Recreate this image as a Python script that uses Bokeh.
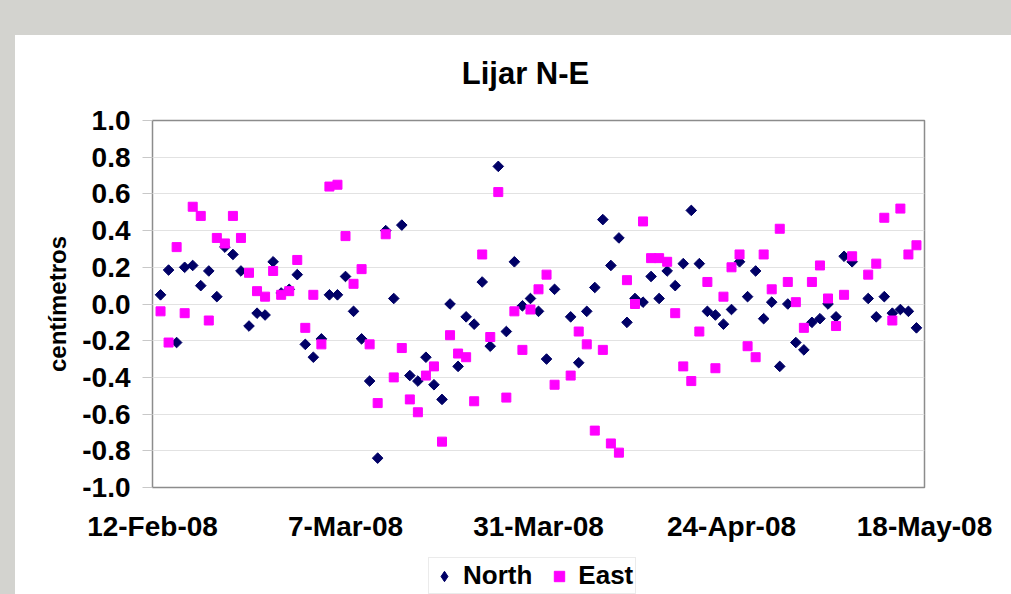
import datetime as dt
from bokeh.plotting import figure
from bokeh.models import (ColumnDataSource, FixedTicker, Legend, LegendItem,
                          Range1d, NumeralTickFormatter, Div, Label)
from bokeh.layouts import column, row
from bokeh.embed import file_html
from bokeh.resources import INLINE

# ---------------- data ----------------
title_text = "Lijar N-E"
start_date = "2008-02-12"
end_date = "2008-05-18"

north_day = [1, 2, 3, 4, 5, 6, 7, 8, 9, 10, 11, 12, 13, 14, 15, 16, 17, 18, 19, 20,
             21, 22, 23, 24, 25, 26, 27, 28, 29, 30, 31, 32, 33, 34, 35, 36, 37, 38, 39, 40,
             41, 42, 43, 44, 45, 46, 47, 48, 49, 50, 52, 53, 54, 55, 56, 57, 58, 59, 60, 61,
             62, 63, 64, 65, 66, 67, 68, 69, 70, 71, 72, 73, 74, 75, 76, 77, 78, 79, 80, 81,
             82, 83, 84, 85, 86, 87, 89, 90, 91, 92, 93, 94, 95]
north_val = [0.05, 0.185, -0.21, 0.20, 0.21, 0.10, 0.18, 0.04, 0.31, 0.27, 0.18, -0.12, -0.05, -0.06, 0.23, 0.06, 0.08, 0.16, -0.22, -0.29,
             -0.19, 0.05, 0.05, 0.15, -0.04, -0.19, -0.42, -0.84, 0.40, 0.03, 0.43, -0.39, -0.42, -0.29, -0.44, -0.52, 0.00, -0.34, -0.07, -0.11,
             0.12, -0.23, 0.75, -0.15, 0.23, -0.01, 0.03, -0.04, -0.30, 0.08, -0.07, -0.32, -0.04, 0.09, 0.46, 0.21, 0.36, -0.10, 0.03, 0.01,
             0.15, 0.03, 0.18, 0.10, 0.22, 0.51, 0.22, -0.04, -0.06, -0.11, -0.03, 0.23, 0.04, 0.18, -0.08, 0.01, -0.34, 0.00, -0.21, -0.25,
             -0.10, -0.08, 0.00, -0.07, 0.26, 0.23, 0.03, -0.07, 0.04, -0.05, -0.03, -0.04, -0.13]

east_day = north_day
east_val = [-0.04, -0.21, 0.31, -0.05, 0.53, 0.48, -0.09, 0.36, 0.33, 0.48, 0.36, 0.17, 0.07, 0.04, 0.18, 0.05, 0.07, 0.24, -0.13, 0.05,
            -0.22, 0.64, 0.65, 0.37, 0.11, 0.19, -0.22, -0.54, 0.38, -0.40, -0.24, -0.52, -0.59, -0.39, -0.34, -0.75, -0.17, -0.27, -0.29, -0.53,
            0.27, -0.18, 0.61, -0.51, -0.04, -0.25, -0.03, 0.08, 0.16, -0.44, -0.39, -0.15, -0.22, -0.69, -0.25, -0.76, -0.81, 0.13, 0.00, 0.45,
            0.25, 0.25, 0.23, -0.05, -0.34, -0.42, -0.15, 0.12, -0.35, 0.04, 0.20, 0.27, -0.23, -0.29, 0.27, 0.08, 0.41, 0.12, 0.01, -0.13,
            0.12, 0.21, 0.03, -0.12, 0.05, 0.26, 0.16, 0.22, 0.47, -0.09, 0.52, 0.27, 0.32]

x_tick_labels = ["12-Feb-08", "7-Mar-08", "31-Mar-08", "24-Apr-08", "18-May-08"]
x_tick_days = [0, 24, 48, 72, 96]
y_ticks = [-1.0, -0.8, -0.6, -0.4, -0.2, 0.0, 0.2, 0.4, 0.6, 0.8, 1.0]

# ---------------- build ----------------
base = dt.datetime.fromisoformat(start_date)
end = dt.datetime.fromisoformat(end_date)


def to_ms(d):
    return (base + dt.timedelta(days=d) - dt.datetime(1970, 1, 1)).total_seconds() * 1000.0


north_src = ColumnDataSource(dict(x=[base + dt.timedelta(days=d) for d in north_day], y=north_val))
east_src = ColumnDataSource(dict(x=[base + dt.timedelta(days=d) for d in east_day], y=east_val))

FONT = "Liberation Sans"
BG = "#d3d3cf"
NORTH_C = "#000066"
EAST_C = "#ff00ff"


def strip(height):
    f = figure(width=996, height=height, output_backend="svg", toolbar_location=None,
               x_axis_location=None, y_axis_location=None,
               x_range=Range1d(0, 1), y_range=Range1d(0, 1),
               min_border=0, min_border_left=0, min_border_right=0,
               min_border_top=0, min_border_bottom=0)
    f.outline_line_color = None
    f.grid.visible = False
    f.border_fill_color = "white"
    f.background_fill_color = "white"
    return f


# ---------------- title strip ----------------
tf = strip(60)
tf.add_layout(Label(x=373, y=22, x_units="screen", y_units="screen", text=title_text,
                    text_font=FONT, text_font_size="31px", text_font_style="bold",
                    text_color="black", text_align="center", text_baseline="middle"))

# ---------------- main plot ----------------
p = figure(width=996, height=460, x_axis_type="datetime", output_backend="svg",
           toolbar_location=None,
           x_range=Range1d(base, end), y_range=Range1d(-1.0, 1.0),
           min_border_left=137, min_border_right=87, min_border_top=25, min_border_bottom=68)

p.background_fill_color = "white"
p.border_fill_color = "white"
p.outline_line_color = "#8c8c8c"
p.outline_line_width = 1.5

p.xgrid.grid_line_color = None
p.ygrid.grid_line_color = "#e2e2e2"
p.ygrid.ticker = FixedTicker(ticks=y_ticks)

ya = p.yaxis[0]
ya.ticker = FixedTicker(ticks=y_ticks)
ya.formatter = NumeralTickFormatter(format="0.0")
ya.axis_line_color = None
ya.major_tick_line_color = "#c8c8c8"
ya.major_tick_out = 10
ya.major_tick_in = 0
ya.minor_tick_line_color = None
ya.major_label_standoff = 12
ya.major_label_text_font = FONT
ya.major_label_text_font_size = "28px"
ya.major_label_text_font_style = "bold"
ya.major_label_text_color = "black"
ya.axis_label = "centímetros"
ya.axis_label_text_font = FONT
ya.axis_label_text_font_size = "24px"
ya.axis_label_text_font_style = "bold"
ya.axis_label_text_color = "black"
ya.axis_label_standoff = 8

xa = p.xaxis[0]
xa.ticker = FixedTicker(ticks=[to_ms(d) for d in x_tick_days])
xa.major_label_overrides = {to_ms(d): lab for d, lab in zip(x_tick_days, x_tick_labels)}
xa.axis_line_color = None
xa.major_tick_line_color = None
xa.minor_tick_line_color = None
xa.major_label_standoff = 17
xa.major_label_text_font = FONT
xa.major_label_text_font_size = "28px"
xa.major_label_text_font_style = "bold"
xa.major_label_text_color = "black"

p.scatter("x", "y", source=north_src, marker="square", angle=0.785398,
          size=7.5, fill_color=NORTH_C, line_color=NORTH_C)
p.scatter("x", "y", source=east_src, marker="square",
          size=9, fill_color=EAST_C, line_color=EAST_C)

# ---------------- legend strip ----------------
lg = strip(39)
# one off-range point each, only so that the legend has a glyph to draw
dummy_n = ColumnDataSource(dict(x=[-5.0], y=[-5.0]))
dummy_e = ColumnDataSource(dict(x=[-5.0], y=[-5.0]))
ln = lg.scatter("x", "y", source=dummy_n, marker="diamond",
                size=11, fill_color=NORTH_C, line_color=NORTH_C)
le = lg.scatter("x", "y", source=dummy_e, marker="square",
                size=9, fill_color=EAST_C, line_color=EAST_C)

legend = Legend(items=[LegendItem(label="North", renderers=[ln], index=0),
                       LegendItem(label="East", renderers=[le], index=0)],
                orientation="horizontal", location=(276, 0))
legend.label_text_font = FONT
legend.label_text_font_size = "26px"
legend.label_text_font_style = "bold"
legend.label_text_color = "black"
legend.border_line_color = "#d8d8d8"
legend.background_fill_color = "white"
legend.background_fill_alpha = 1.0
legend.glyph_width = 26
legend.glyph_height = 26
legend.label_standoff = 6
legend.spacing = 14
legend.padding = 2
legend.margin = 0
lg.add_layout(legend, "center")

top_band = Div(width=1011, height=35, margin=0, styles={"background-color": BG})
left_band = Div(width=15, height=559, margin=0, styles={"background-color": BG})
page = column(top_band,
              row(left_band, column(tf, p, lg, spacing=0, margin=0), spacing=0, margin=0),
              spacing=0, margin=0)

open("out.html", "w").write(file_html(page, INLINE))
